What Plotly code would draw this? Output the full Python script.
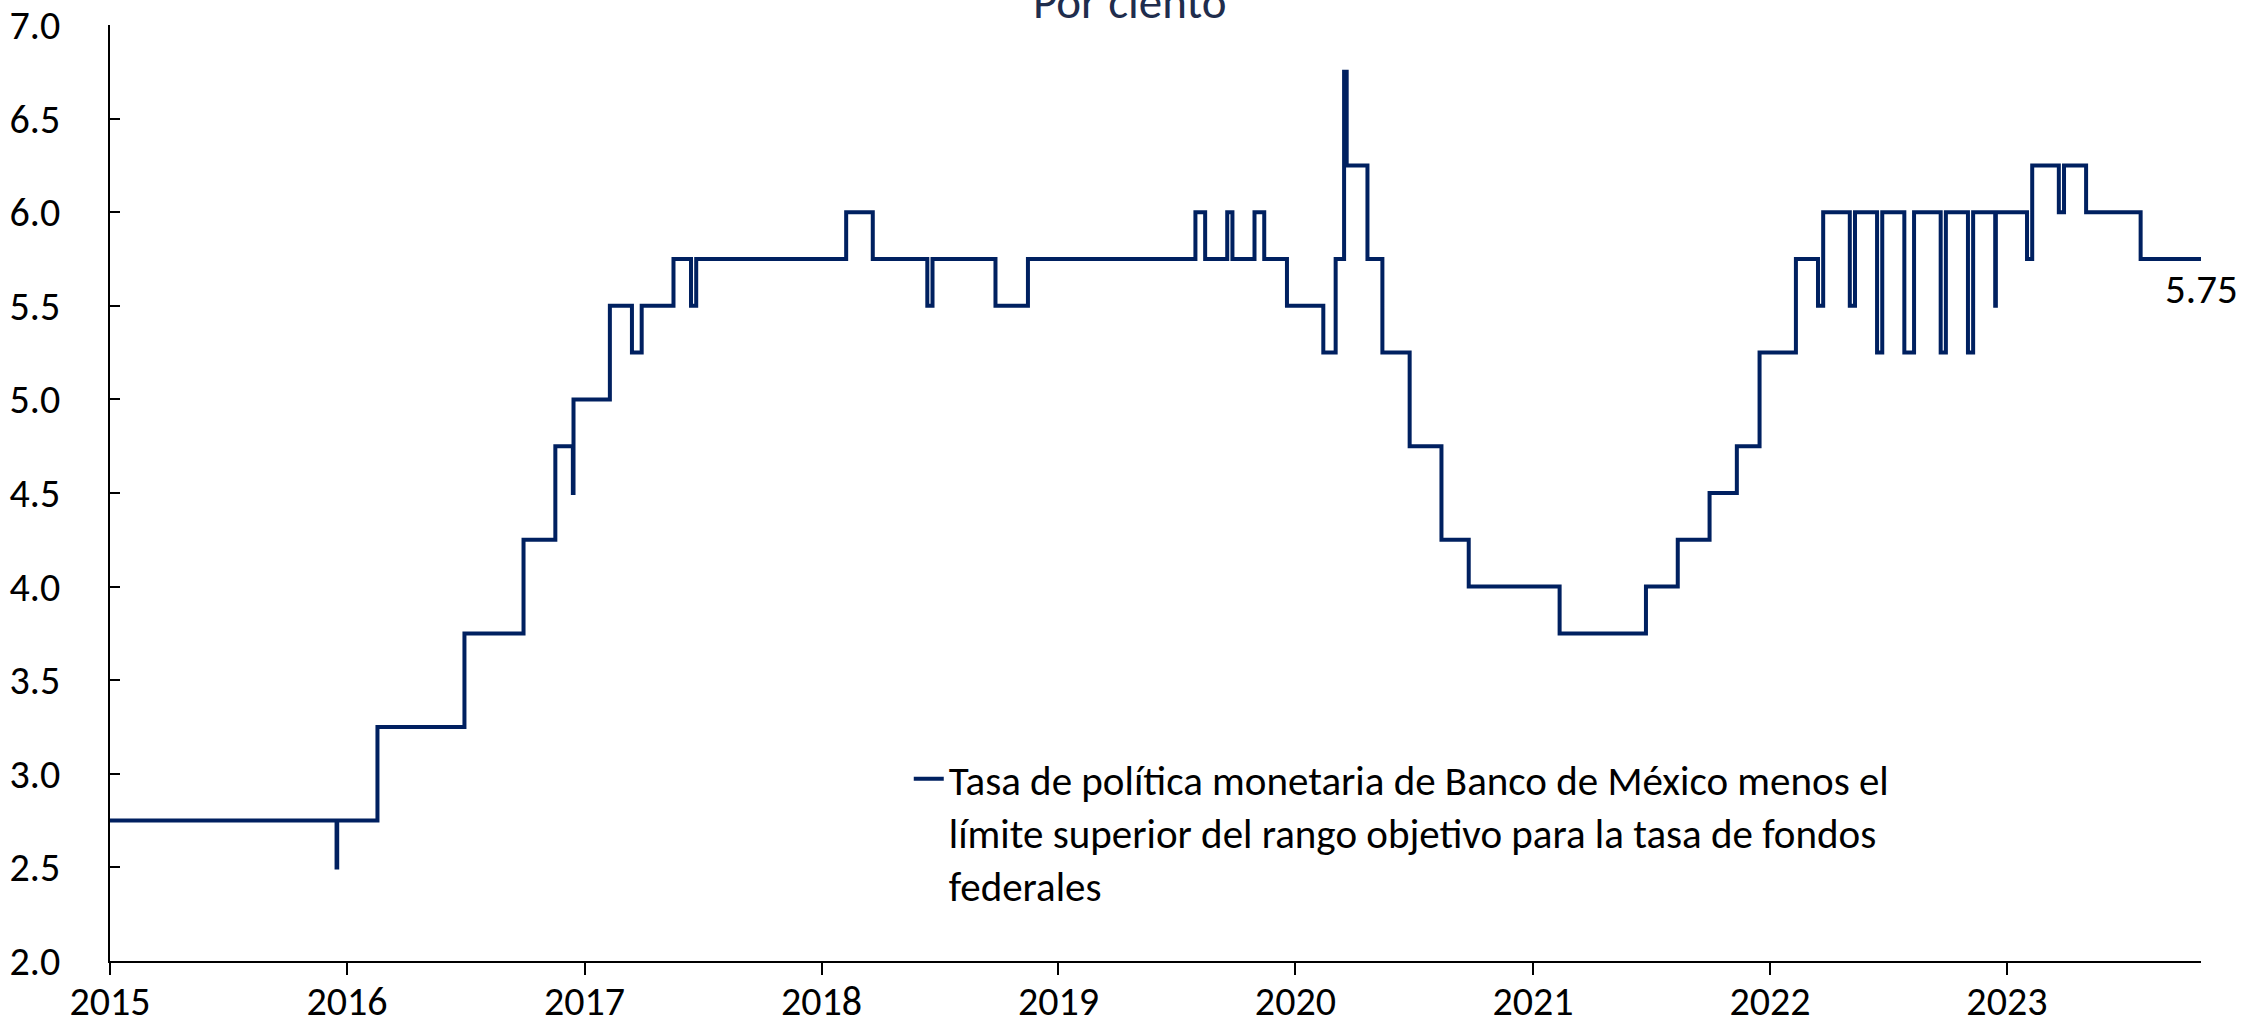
import plotly.graph_objects as go

# Change points of the spread (Banxico policy rate minus Fed funds upper bound), per cent
dates = [
    "2015-01-01", "2015-12-16", "2015-12-17", "2016-02-17", "2016-06-30", "2016-09-29",
    "2016-11-17", "2016-12-14", "2016-12-15", "2017-02-09", "2017-03-15", "2017-03-30",
    "2017-05-18", "2017-06-14", "2017-06-22", "2018-02-08", "2018-03-21", "2018-06-13",
    "2018-06-21", "2018-09-26", "2018-11-15", "2019-07-31", "2019-08-15", "2019-09-18",
    "2019-09-26", "2019-10-30", "2019-11-14", "2019-12-19", "2020-02-13", "2020-03-03",
    "2020-03-16", "2020-03-20", "2020-04-21", "2020-05-14", "2020-06-25", "2020-08-13",
    "2020-09-24", "2021-02-11", "2021-06-24", "2021-08-12", "2021-09-30", "2021-11-11",
    "2021-12-16", "2022-02-10", "2022-03-16", "2022-03-24", "2022-05-04", "2022-05-12",
    "2022-06-15", "2022-06-23", "2022-07-27", "2022-08-11", "2022-09-21", "2022-09-29",
    "2022-11-02", "2022-11-10", "2022-12-14", "2022-12-15", "2023-02-01", "2023-02-09",
    "2023-03-22", "2023-03-30", "2023-05-03", "2023-07-26", "2023-10-27",
]
spread = [
    2.75, 2.50, 2.75, 3.25, 3.75, 4.25,
    4.75, 4.50, 5.00, 5.50, 5.25, 5.50,
    5.75, 5.50, 5.75, 6.00, 5.75, 5.50,
    5.75, 5.50, 5.75, 6.00, 5.75, 6.00,
    5.75, 6.00, 5.75, 5.50, 5.25, 5.75,
    6.75, 6.25, 5.75, 5.25, 4.75, 4.25,
    4.00, 3.75, 4.00, 4.25, 4.50, 4.75,
    5.25, 5.75, 5.50, 6.00, 5.50, 6.00,
    5.25, 6.00, 5.25, 6.00, 5.25, 6.00,
    5.25, 6.00, 5.50, 6.00, 5.75, 6.25,
    6.00, 6.25, 6.00, 5.75, 5.75,
]
series_name = ("Tasa de política monetaria de Banco de México menos el<br>"
               "límite superior del rango objetivo para la tasa de fondos<br>"
               "federales")
title_text = "Por ciento"
x_range = ["2015-01-01", "2023-10-27"]
y_range = [2.0, 7.0]

FONT = "Carlito, Calibri, Lato, sans-serif"
NAVY = "#002060"

fig = go.Figure()
fig.add_trace(go.Scatter(
    x=dates, y=spread, name=series_name, mode="lines",
    line=dict(color=NAVY, width=4, shape="hv"),
    showlegend=True,
))

fig.add_annotation(
    x=dates[-1], y=spread[-1], xref="x", yref="y",
    text=f"{spread[-1]:.2f}", showarrow=False,
    xanchor="center", yanchor="middle", yshift=-30,
    font=dict(family=FONT, size=41, color="black"),
)
fig.add_annotation(
    x=0.488, y=1, xref="paper", yref="paper",
    text=title_text, showarrow=False,
    xanchor="center", yanchor="bottom", yshift=-8,
    font=dict(family=FONT, size=47, color="#1F2D4D"),
)

fig.update_layout(
    width=2267, height=1034,
    margin=dict(l=110, r=66, t=25, b=73),
    paper_bgcolor="white", plot_bgcolor="white",
    font=dict(family=FONT, color="black"),
    showlegend=True,
    legend=dict(
        x=0.382, y=0.230, xanchor="left", yanchor="top",
        font=dict(family=FONT, size=41, color="black"),
        bgcolor="rgba(0,0,0,0)", valign="top",
    ),
    xaxis=dict(
        type="date", range=x_range, showgrid=False, zeroline=False,
        showline=True, linecolor="black", linewidth=2,
        ticks="outside", ticklen=12, tickwidth=1.5, tickcolor="black",
        dtick="M12", tick0="2015-01-01", tickformat="%Y",
        tickfont=dict(family=FONT, size=40, color="black"),
        ticklabelstandoff=-8, automargin=False,
    ),
    yaxis=dict(
        range=y_range, showgrid=False, zeroline=False,
        showline=True, linecolor="black", linewidth=1.5,
        ticks="inside", ticklen=10, tickwidth=1.5, tickcolor="black",
        dtick=0.5, tick0=0, tickformat=".1f",
        tickfont=dict(family=FONT, size=40, color="black"),
        ticklabelstandoff=40, automargin=False,
    ),
)

fig.write_html(
    "out.html",
    config={"displayModeBar": False},
    post_script="document.body.style.margin='0';document.body.style.overflow='hidden';",
)
